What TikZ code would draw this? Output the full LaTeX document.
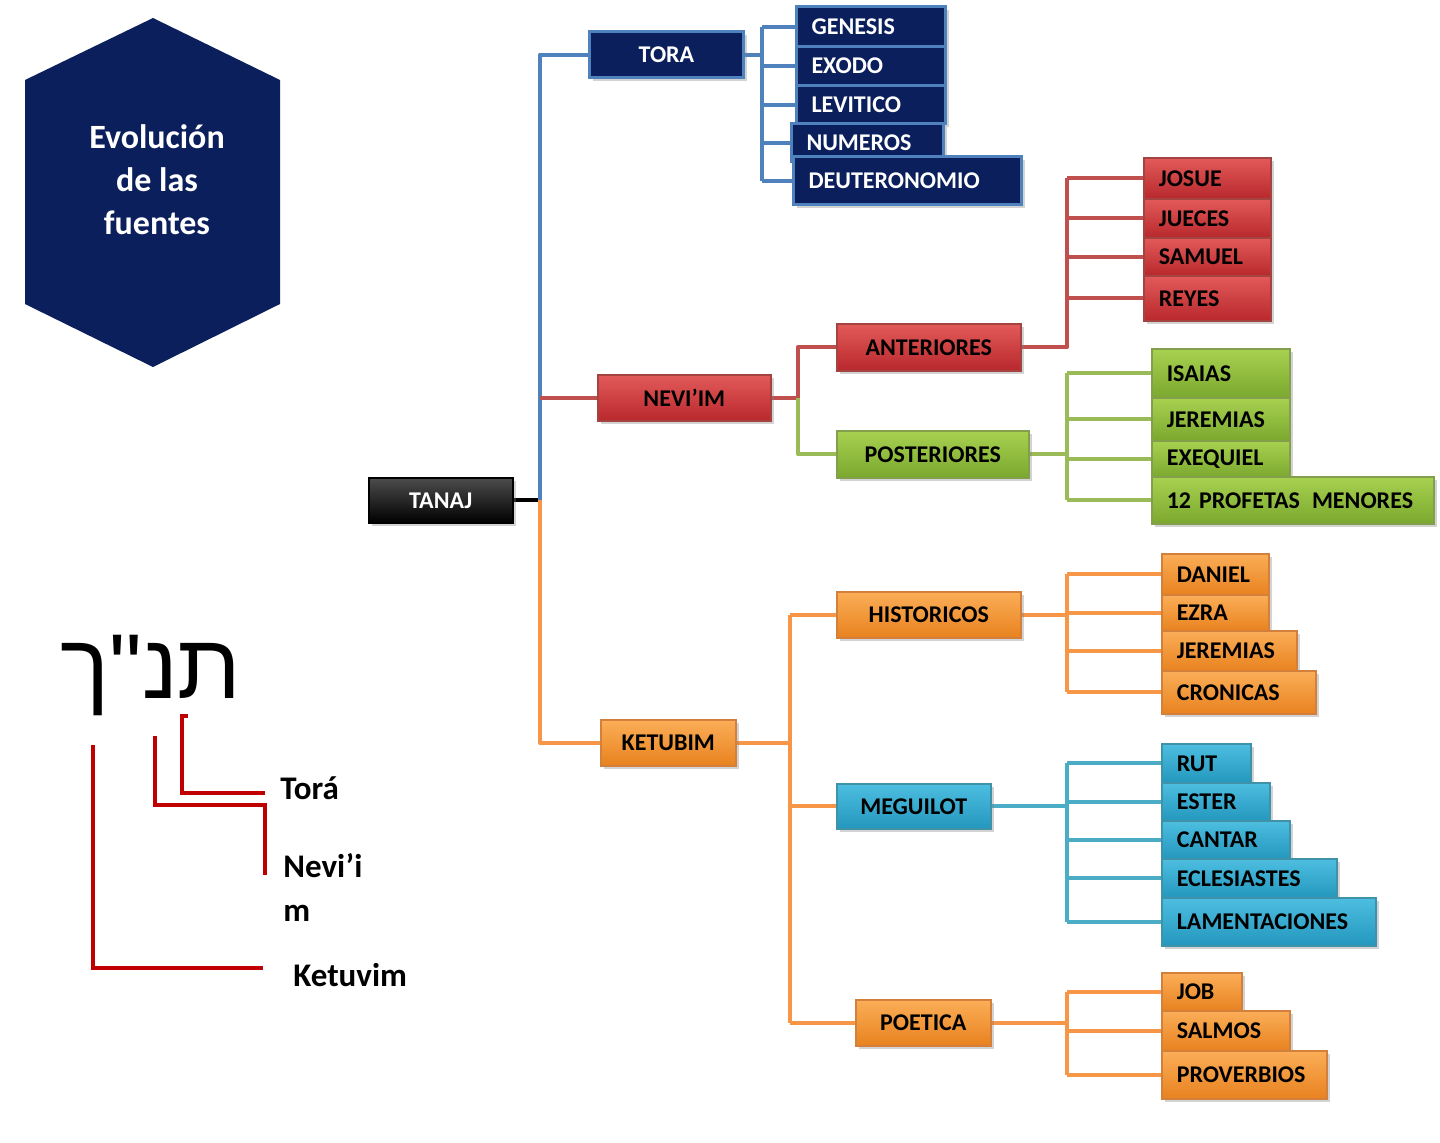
\documentclass[tikz,border=0pt]{standalone}
\usepackage{fontspec}
\setmainfont{Carlito}
\newfontfamily\hebfont[Script=Hebrew,Ligatures=TeXOff]{Liberation Sans}
\TeXXeTstate=1
\usetikzlibrary{shadows}
\definecolor{navyc}{HTML}{0B1F5C}
\definecolor{bluec}{HTML}{4F81BD}
\definecolor{redc}{HTML}{C0504D}
\definecolor{redt}{HTML}{E35A5A}
\definecolor{redb}{HTML}{B8282C}
\definecolor{grc}{HTML}{9BBB59}
\definecolor{grt}{HTML}{A8D150}
\definecolor{grb}{HTML}{7AA82E}
\definecolor{orc}{HTML}{F79646}
\definecolor{ort}{HTML}{FBAE58}
\definecolor{orb}{HTML}{E8821F}
\definecolor{cyc}{HTML}{4BACC6}
\definecolor{cyt}{HTML}{4DBEE0}
\definecolor{cyb}{HTML}{2497BE}
\definecolor{darkred}{HTML}{C00000}
\pgfdeclarelayer{background}
\pgfsetlayers{background,main}
\newcommand\mybox[8]{\node[#2,anchor=north west,minimum width={(#5-#3)*0.5pt},minimum height={(#6-#4)*0.5pt},text width={(#5-#3-30)*0.5pt},align=#7] (#1) at (#3,#4) {#8};}
\tikzset{
  bx/.style={inner sep=0pt, line width=0.8pt, font=\bfseries\fontsize{12}{13}\selectfont,
    drop shadow={shadow xshift=1.5pt,shadow yshift=-1.5pt,opacity=0.35}},
  nv/.style={bx, fill=navyc, draw=bluec, line width=1.5pt, text=white},
  rd/.style={bx, top color=redt, bottom color=redb, draw=redc!85!black},
  gr/.style={bx, top color=grt, bottom color=grb, draw=grc!85!black},
  og/.style={bx, top color=ort, bottom color=orb, draw=orc!85!black},
  cy/.style={bx, top color=cyt, bottom color=cyb, draw=cyc!85!black},
  tn/.style={bx, top color=black!70, bottom color=black, draw=black, text=white},
  cn/.style={line width=2pt, line join=round},
  hl/.style={line width=1.6pt, draw=darkred, line join=miter},
  lbl/.style={font=\bfseries\fontsize{16.5}{22}\selectfont, anchor=west, inner sep=0pt, align=left}
}
\begin{document}
\begin{tikzpicture}[x=0.5pt,y=-0.5pt]
\useasboundingbox (0,0) rectangle (1440,1142);
% hexagon
\fill[navyc] (153,18) -- (280,80) -- (280,304) -- (153,367) -- (25,304) -- (25,80) -- cycle;
\node[text=white, font=\bfseries\fontsize{17}{21.5}\selectfont, align=center] (hex) at (157,180) {Evolución\\de las\\fuentes};
% hebrew
\node[anchor=base, inner sep=0pt, font=\hebfont\fontsize{46}{46}\selectfont] (heb) at (151,698) {\beginR תנ"ך\endR};
\node[lbl] (ltora) at (280,788) {Torá};
\node[lbl] (lnev) at (283,887) {Nevi’i\\m};
\node[lbl] (lket) at (293,975) {Ketuvim};
\coordinate (hT) at (182,716);
\coordinate (hN) at (155,736);
\coordinate (hK) at (93,745);
\draw[hl] (hT) ++(6,0) -- (hT) -- (182,793) -- (265,793);
\draw[hl] (hN) -- (155,805) -- (265,805) -- (265,875);
\draw[hl] (hK) -- (93,968) -- (263,968);
% boxes
\mybox{TANAJ}{tn}{368}{477}{512}{522}{center}{TANAJ}
\mybox{TORA}{nv}{588}{30}{742}{76}{center}{TORA}
\mybox{GEN}{nv}{795}{5}{944}{45}{left}{GENESIS}
\mybox{EXO}{nv}{795}{45}{944}{84}{left}{EXODO}
\mybox{LEV}{nv}{795}{84}{944}{122}{left}{LEVITICO}
\mybox{NUM}{nv}{790}{122}{942}{160}{left}{NUMEROS}
\mybox{DEU}{nv}{792}{155}{1020}{203}{left}{DEUTERONOMIO}
\mybox{NEV}{rd}{597}{374}{770}{420}{center}{NEVI’IM}
\mybox{ANT}{rd}{836}{323}{1020}{370}{center}{ANTERIORES}
\mybox{POS}{gr}{836}{430}{1028}{477}{center}{POSTERIORES}
\mybox{JOS}{rd}{1143}{157}{1270}{198}{left}{JOSUE}
\mybox{JUE}{rd}{1143}{198}{1270}{237}{left}{JUECES}
\mybox{SAM}{rd}{1143}{237}{1270}{275}{left}{SAMUEL}
\mybox{REY}{rd}{1143}{275}{1270}{320}{left}{REYES}
\mybox{ISA}{gr}{1151}{348}{1289}{397}{left}{ISAIAS}
\mybox{JERa}{gr}{1151}{397}{1289}{440}{left}{JEREMIAS}
\mybox{EXE}{gr}{1151}{440}{1289}{477}{left}{EXEQUIEL}
\mybox{DOCE}{gr}{1151}{476}{1433}{523}{left}{12 PROFETAS\hspace{2pt} MENORES}
\mybox{KET}{og}{600}{719}{735}{765}{center}{KETUBIM}
\mybox{HIS}{og}{836}{591}{1020}{637}{center}{HISTORICOS}
\mybox{MEG}{cy}{836}{783}{990}{828}{center}{MEGUILOT}
\mybox{POE}{og}{855}{999}{990}{1045}{center}{POETICA}
\mybox{DAN}{og}{1161}{553}{1268}{594}{left}{DANIEL}
\mybox{EZR}{og}{1161}{594}{1268}{630}{left}{EZRA}
\mybox{JERb}{og}{1161}{630}{1296}{670}{left}{JEREMIAS}
\mybox{CRO}{og}{1161}{670}{1315}{713}{left}{CRONICAS}
\mybox{RUT}{cy}{1161}{743}{1250}{782}{left}{RUT}
\mybox{EST}{cy}{1161}{782}{1269}{820}{left}{ESTER}
\mybox{CAN}{cy}{1161}{820}{1289}{858}{left}{CANTAR}
\mybox{ECL}{cy}{1161}{858}{1336}{897}{left}{ECLESIASTES}
\mybox{LAM}{cy}{1161}{897}{1375}{945}{left}{LAMENTACIONES}
\mybox{JOB}{og}{1161}{972}{1241}{1010}{left}{JOB}
\mybox{SAL}{og}{1161}{1010}{1289}{1050}{left}{SALMOS}
\mybox{PRO}{og}{1161}{1050}{1326}{1098}{left}{PROVERBIOS}
% connectors
\begin{pgfonlayer}{background}
\coordinate (jx) at (540,0);
\coordinate (tv) at (762,0);
\coordinate (nvx) at (798,0);
\coordinate (av) at (1067,0);
\coordinate (kv) at (790,0);
\coordinate (j0) at (jx |- TANAJ.east);
\draw[cn, black] (TANAJ.east) -- (j0);
\draw[cn, bluec] (j0) |- (TORA.west);
\draw[cn, orc] (j0) |- (KET.west);
\draw[cn, redc] (j0 |- NEV.west) -- (NEV.west);
% tora
\draw[cn, bluec] (TORA.east) -- (tv |- TORA.east);
\draw[cn, bluec] (tv |- GEN.west) -- (tv |- DEU.west);
\foreach \n in {GEN,EXO,LEV,NUM,DEU} \draw[cn, bluec] (tv |- \n.west) -- (\n.west);
% neviim
\draw[cn, redc] (NEV.east) -- (nvx |- NEV.east) |- (ANT.west);
\draw[cn, grc] (nvx |- NEV.east) |- (POS.west);
\draw[cn, redc] (ANT.east) -- (av |- ANT.east) -- (av |- JOS.west);
\foreach \n in {JOS,JUE,SAM,REY} \draw[cn, redc] (av |- \n.west) -- (\n.west);
\draw[cn, grc] (POS.east) -- (av |- POS.east);
\draw[cn, grc] (av |- ISA.west) -- (av |- DOCE.west);
\foreach \n in {ISA,JERa,EXE,DOCE} \draw[cn, grc] (av |- \n.west) -- (\n.west);
% ketubim
\draw[cn, orc] (KET.east) -- (kv |- KET.east);
\draw[cn, orc] (kv |- HIS.west) -- (kv |- POE.west);
\foreach \n in {HIS,MEG,POE} \draw[cn, orc] (kv |- \n.west) -- (\n.west);
\draw[cn, orc] (HIS.east) -- (av |- HIS.east);
\draw[cn, orc] (av |- DAN.west) -- (av |- CRO.west);
\foreach \n in {DAN,EZR,JERb,CRO} \draw[cn, orc] (av |- \n.west) -- (\n.west);
\draw[cn, cyc] (MEG.east) -- (av |- MEG.east);
\draw[cn, cyc] (av |- RUT.west) -- (av |- LAM.west);
\foreach \n in {RUT,EST,CAN,ECL,LAM} \draw[cn, cyc] (av |- \n.west) -- (\n.west);
\draw[cn, orc] (POE.east) -- (av |- POE.east);
\draw[cn, orc] (av |- JOB.west) -- (av |- PRO.west);
\foreach \n in {JOB,SAL,PRO} \draw[cn, orc] (av |- \n.west) -- (\n.west);
\end{pgfonlayer}
\end{tikzpicture}
\end{document}
